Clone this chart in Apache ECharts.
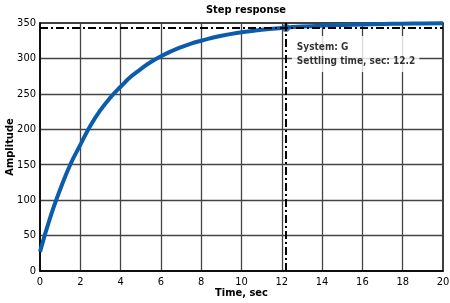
<!DOCTYPE html>
<html>
<head>
<meta charset="utf-8">
<script src="https://cdn.jsdelivr.net/npm/echarts@6/dist/echarts.min.js"></script>
<style>html,body{margin:0;padding:0;background:#fff}#c{width:450px;height:303px}</style>
</head>
<body>
<div id="c"></div>
<script>
var timeValues = [0, 0.5, 1, 1.5, 2, 2.5, 3, 3.5, 4, 4.5, 5, 5.5, 6, 6.5, 7, 7.5, 8, 9, 10, 11, 12, 13, 14, 15, 16, 17, 18, 19, 20];
var amplitudeValues = [27, 75, 115, 150, 178, 205, 227, 245, 260, 274, 285, 295, 303, 310, 316, 321, 325, 332, 337, 340.5, 343, 345, 346.4, 347.3, 348, 348.6, 349, 349.3, 349.5];
var settlingTime = 12.2;
var settlingLevel = 343;
var systemName = 'G';
var xTicks = {min: 0, max: 20, interval: 2};
var yTicks = {min: 0, max: 350, interval: 50};

var FONT = '"Liberation Sans Narrow", "DejaVu Sans Condensed", sans-serif';
var lineData = timeValues.map(function (t, i) { return [t, amplitudeValues[i]]; });

var chart = echarts.init(document.getElementById('c'), null, {renderer: 'canvas'});
chart.setOption({
  animation: false,
  backgroundColor: '#fff',
  title: {
    text: 'Step response',
    left: 241, top: 0, textAlign: 'center',
    textStyle: {fontFamily: FONT, fontSize: 11, fontWeight: 'bold', color: '#000'}
  },
  grid: {left: 40, right: 7, top: 23, bottom: 32, outerBoundsMode: 'none', containLabel: false,
    show: true, borderColor: '#000', borderWidth: 1.5, backgroundColor: 'transparent'},
  xAxis: {
    type: 'value', min: xTicks.min, max: xTicks.max, interval: xTicks.interval,
    name: 'Time, sec', nameLocation: 'middle', nameGap: 17, nameMoveOverlap: false,
    nameTextStyle: {fontFamily: FONT, fontSize: 11, fontWeight: 'bold', color: '#000'},
    axisLine: {show: true, lineStyle: {color: '#000', width: 1.5}},
    axisTick: {show: false},
    axisLabel: {fontFamily: FONT, fontSize: 11, color: '#000', margin: 6},
    splitLine: {show: true, showMinLine: false, showMaxLine: false, lineStyle: {color: '#444', width: 1.3}}
  },
  yAxis: {
    type: 'value', min: yTicks.min, max: yTicks.max, interval: yTicks.interval,
    name: 'Amplitude', nameLocation: 'middle', nameGap: 24, nameMoveOverlap: false,
    nameTextStyle: {fontFamily: FONT, fontSize: 11, fontWeight: 'bold', color: '#000'},
    axisLine: {show: true, lineStyle: {color: '#000', width: 1.5}},
    axisTick: {show: false},
    axisLabel: {fontFamily: FONT, fontSize: 11, color: '#000', margin: 4},
    splitLine: {show: true, showMinLine: false, showMaxLine: false, lineStyle: {color: '#444', width: 1.3}}
  },
  series: [
    {
      type: 'line', data: lineData, showSymbol: false, smooth: true,
      lineStyle: {color: '#0b5cad', width: 4},
      markLine: {
        silent: true, symbol: 'none', label: {show: false},
        lineStyle: {color: '#000', width: 2, type: [8, 3, 2, 3]},
        data: [{yAxis: settlingLevel}, {xAxis: settlingTime}]
      },
      z: 3
    },
    {
      type: 'scatter', data: [[settlingTime, settlingLevel]], symbolSize: 8,
      itemStyle: {color: '#0b5cad'},
      label: {
        show: true, position: [10, 12],
        formatter: 'System: ' + systemName + '\nSettling time, sec: ' + settlingTime,
        fontFamily: FONT, fontSize: 10, fontWeight: 'bold', color: '#000', lineHeight: 14,
        backgroundColor: '#fff', padding: [4, 4, 4, 5], align: 'left', verticalAlign: 'top'
      },
      z: 4
    }
  ]
});
</script>
</body>
</html>
